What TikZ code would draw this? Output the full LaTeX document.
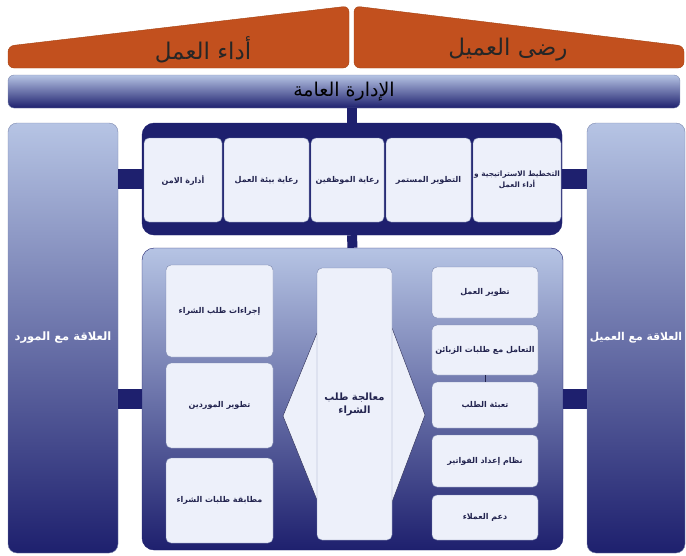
\documentclass[tikz,border=0pt]{standalone}
\usepackage{fontspec}
\newfontfamily\arabicfont[Script=Arabic]{DejaVu Sans}
\TeXXeTstate=1
\newcommand{\artext}[1]{{\arabicfont\beginR #1\endR}}
\definecolor{navy}{HTML}{1E206E}
\definecolor{paleblue}{HTML}{B6C4E4}
\definecolor{boxfill}{HTML}{EDF0FA}
\definecolor{frame}{HTML}{7C88AE}
\definecolor{roofcol}{HTML}{C2501E}
\definecolor{roofline}{HTML}{A5410F}
\definecolor{inktext}{HTML}{23244F}

\begin{document}
\begin{tikzpicture}[x=1pt,y=-1pt]
    \tikzstyle{roof}=[fill=roofcol,draw=roofline,rounded corners=6pt]
    \tikzstyle{bar}=[draw=navy,line cap=butt]
    \tikzstyle{panel}=[draw=frame,rounded corners=9pt,top color=paleblue,bottom color=navy]
    \tikzstyle{smallbox}=[draw=frame,fill=boxfill,rounded corners=5pt,align=center,
        text=inktext,font=\bfseries\fontsize{8}{11}\selectfont]

    \useasboundingbox (0,0) rectangle (686,555);

    % roof
    \draw[roof] (8,68) -- (8,46) -- (349,6) -- (349,68) -- cycle;
    \draw[roof] (354,6) -- (684,46) -- (684,68) -- (354,68) -- cycle;
    \node[text=black!85,font=\fontsize{23}{26}\selectfont] at (203,50) (perf) {\artext{أداء العمل}};
    \node[text=black!85,font=\fontsize{23}{26}\selectfont] at (508,50) (satis) {\artext{رضى العميل}};

    % management bar
    \node[panel,minimum width=672pt,minimum height=33pt,rounded corners=6pt,
        font=\fontsize{19}{22}\selectfont] at (344,91.5) (mgmt) {\artext{الإدارة العامة}};

    % side panels
    \node[panel,minimum width=110pt,minimum height=430pt,text=white,inner sep=0pt,
        font=\bfseries\fontsize{11.5}{14}\selectfont] at (63,338) (lside) {\artext{العلاقة مع المورد}};
    \node[panel,minimum width=98pt,minimum height=430pt,text=white,inner sep=0pt,
        font=\bfseries\fontsize{10.8}{14}\selectfont] at (636,338) (rside) {\artext{العلاقة مع العميل}};

    % containers
    \node[fill=navy,draw=navy,rounded corners=12pt,minimum width=420pt,minimum height=112pt] at (352,179) (top) {};
    \node[panel,draw=navy,rounded corners=12pt,minimum width=421pt,minimum height=302pt] at (352.5,399) (bot) {};

    % connectors
    \draw[bar,line width=10pt] (mgmt.south -| top.north) -- (top.north);
    \draw[bar,line width=10pt] (top.south) -- (bot.north);
    \draw[bar,line width=20pt] (lside.east |- top.west) -- (top.west);
    \draw[bar,line width=20pt] (lside.east |- bot.west) -- (bot.west);
    \draw[bar,line width=20pt] (top.east) -- (rside.west |- top.east);
    \draw[bar,line width=20pt] (bot.east) -- (rside.west |- bot.east);

    % top row
    \node[smallbox,minimum width=78pt,minimum height=84pt] at (183,180) (t1) {\artext{أدارة الامن}};
    \node[smallbox,minimum width=85pt,minimum height=84pt] at (266.5,180) (t2) {\artext{رعاية بيئة العمل}};
    \node[smallbox,minimum width=73pt,minimum height=84pt] at (347.5,180) (t3) {\artext{رعاية الموظفين}};
    \node[smallbox,minimum width=85pt,minimum height=84pt] at (428.5,180) (t4) {\artext{التطوير المستمر}};
    \node[smallbox,minimum width=88pt,minimum height=84pt,inner sep=1pt,
        font=\bfseries\fontsize{7.4}{11}\selectfont] at (517,180) (t5)
        {\artext{التخطيط الاستراتيجية و}\\\artext{أداء العمل}};

    % left column
    \node[smallbox,minimum width=107pt,minimum height=92pt] at (219.5,311) (l1) {\artext{إجراءات طلب الشراء}};
    \node[smallbox,minimum width=107pt,minimum height=85pt] at (219.5,405.5) (l2) {\artext{تطوير الموردين}};
    \node[smallbox,minimum width=107pt,minimum height=85pt] at (219.5,500.5) (l3) {\artext{مطابقة طلبات الشراء}};

    % centre
    \filldraw[fill=boxfill,draw=inktext] (283,416) -- (317,333) -- (392,328) -- (425,415) -- (392,502) -- (317,500) -- cycle;
    \node[smallbox,minimum width=75pt,minimum height=272pt,font=\bfseries\fontsize{10}{13}\selectfont]
        at (354.5,404) (proc) {\artext{معالجة طلب}\\\artext{الشراء}};

    % right column
    \node[smallbox,minimum width=106pt,minimum height=51pt] at (485,292.5) (r1) {\artext{تطوير العمل}};
    \node[smallbox,minimum width=106pt,minimum height=50pt] at (485,350) (r2) {\artext{التعامل مع طلبات الزبائن}};
    \node[smallbox,minimum width=106pt,minimum height=46pt] at (485,405) (r3) {\artext{تعبئة الطلب}};
    \node[smallbox,minimum width=106pt,minimum height=52pt] at (485,461) (r4) {\artext{نظام إعداد الفواتير}};
    \node[smallbox,minimum width=106pt,minimum height=45pt] at (485,517.5) (r5) {\artext{دعم العملاء}};
    \draw[inktext] (r2.south) -- (r3.north);
\end{tikzpicture}
\end{document}
